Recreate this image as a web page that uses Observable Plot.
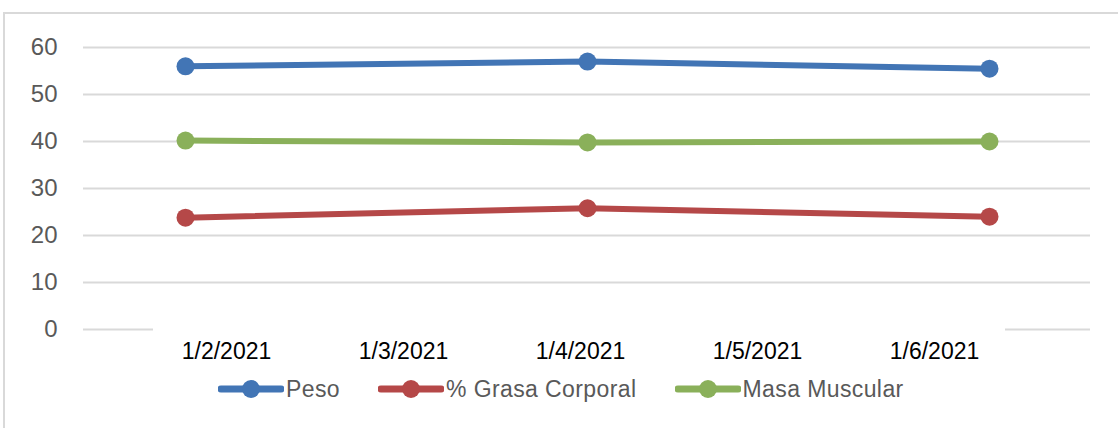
<!DOCTYPE html>
<html>
<head>
<meta charset="utf-8">
<script src="https://cdn.jsdelivr.net/npm/d3@7"></script>
<script src="https://cdn.jsdelivr.net/npm/@observablehq/plot@0.6"></script>
<style>
  html, body { margin: 0; padding: 0; background: #fff; }
  #chart { position: relative; width: 1118px; height: 428px; overflow: hidden; background: #fff;
           font-family: "Liberation Sans", Arial, Helvetica, sans-serif; }
  #frame { position: absolute; left: 3px; top: 12px; width: 1140px; height: 440px;
           border-top: 2px solid #d9d9d9; border-left: 2px solid #d9d9d9; }
  #main { position: absolute; left: 0; top: 0; }
  #xlabels { position: absolute; left: 153px; top: 325px; }
  #legend { position: absolute; left: 218px; top: 376px; height: 26px; display: flex; align-items: center;
            font-size: 23px; color: #595959; letter-spacing: 0.4px; }
  .item { display: flex; align-items: center; margin-right: 38px; }
  .item svg { margin-right: 2px; }
</style>
</head>
<body>
<div id="chart">
  <div id="frame"></div>
  <div id="main"></div>
  <div id="xlabels"></div>
  <div id="legend"></div>
</div>
<script>
// ---- data ----
const dateLabels = ["1/2/2021", "1/3/2021", "1/4/2021", "1/5/2021", "1/6/2021"];
const measureDates = ["1/2/2021", "1/4/2021", "1/6/2021"];
const seriesNames = ["Peso", "% Grasa Corporal", "Masa Muscular"];
const peso = [56, 57, 55.5];
const grasa = [23.8, 25.8, 24];
const masa = [40.2, 39.8, 40];
const yTicks = [0, 10, 20, 30, 40, 50, 60];
const colors = ["#4275b5", "#b54848", "#8ab05a"];

const seriesValues = [peso, grasa, masa];
const rows = seriesNames.flatMap((name, i) =>
  measureDates.map((d, j) => ({series: name, date: d, value: seriesValues[i][j]}))
);

const font = '"Liberation Sans", Arial, Helvetica, sans-serif';

const main = Plot.plot({
  width: 1118,
  height: 340,
  marginLeft: 83,
  marginRight: 28,
  marginTop: 47,
  marginBottom: 11,
  style: {background: "transparent", fontFamily: font, fontSize: "24px", color: "#595959", overflow: "visible"},
  x: {type: "point", domain: dateLabels, padding: 0.5, axis: null},
  y: {domain: [0, 60], ticks: yTicks, tickSize: 0, tickPadding: 26, label: null},
  color: {domain: seriesNames, range: colors},
  marks: [
    Plot.ruleY(yTicks, {stroke: "#d9d9d9", strokeWidth: 2}),
    Plot.line(rows, {x: "date", y: "value", z: "series", stroke: "series", strokeWidth: 6, strokeLinecap: "round"}),
    Plot.dot(rows, {x: "date", y: "value", fill: "series", r: 9})
  ]
});
document.getElementById("main").appendChild(main);

const xlab = Plot.plot({
  width: 852,
  height: 40,
  marginLeft: 71,
  marginRight: 70,
  marginTop: 17,
  marginBottom: 23,
  style: {background: "#fff", fontFamily: font, fontSize: "23px", color: "#000", overflow: "visible"},
  x: {type: "point", domain: dateLabels, padding: 0, tickSize: 0, tickPadding: 0, label: null},
  marks: [Plot.ruleX(dateLabels, {strokeOpacity: 0})]
});
document.getElementById("xlabels").appendChild(xlab);

// legend
const legend = document.getElementById("legend");
seriesNames.forEach((name, i) => {
  const item = document.createElement("div");
  item.className = "item";
  item.innerHTML = `<svg width="66" height="22"><line x1="3" x2="63" y1="11" y2="11" stroke="${colors[i]}" stroke-width="7" stroke-linecap="round"/><circle cx="33" cy="11" r="9" fill="${colors[i]}"/></svg><span>${name}</span>`;
  legend.appendChild(item);
});
</script>
</body>
</html>
